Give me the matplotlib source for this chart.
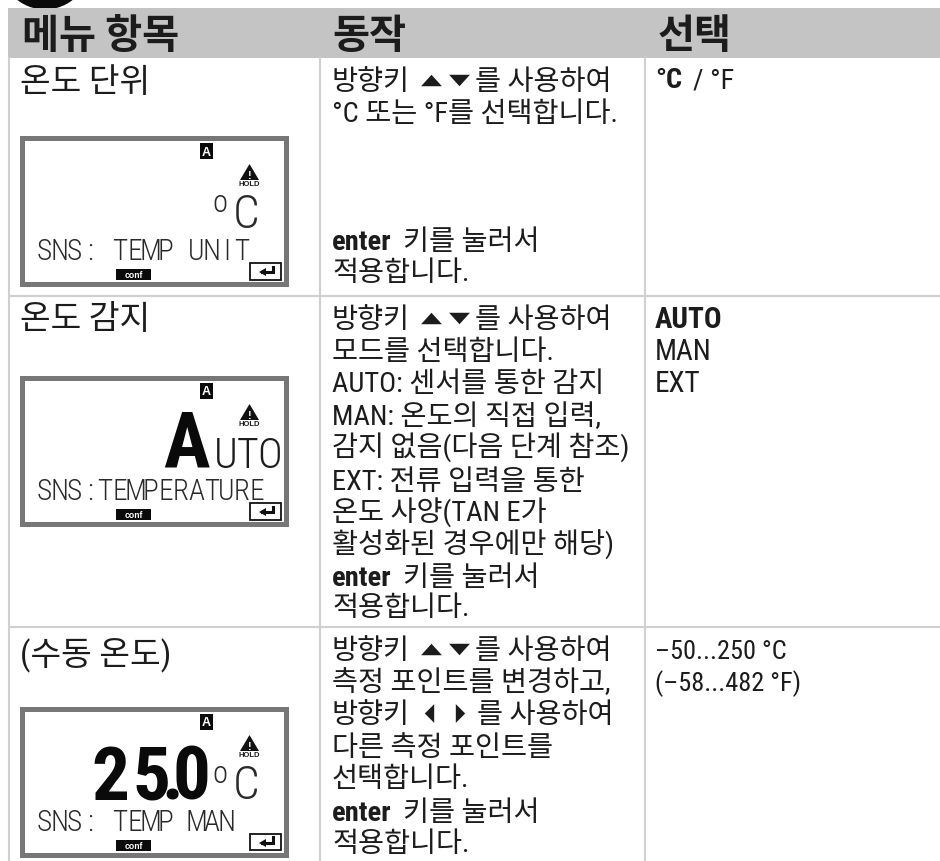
import matplotlib
matplotlib.use("Agg")
import matplotlib.pyplot as plt
from matplotlib.path import Path
from matplotlib.patches import Rectangle, Circle, Polygon

W, H = 940, 862
LAT = "Roboto Condensed"
KR = "Noto Sans CJK KR"
FAM = [LAT, KR, "DejaVu Sans"]

# ---------- content ----------
headers = ["메뉴 항목", "동작", "선택"]
titles = ["온도 단위", "온도 감지", "(수동 온도)"]
lcd_lines = ["SNS: TEMP UNIT", "SNS:TEMPERATURE", "SNS: TEMP MAN"]
lcd_big = ["", "A", "25.0"]
lcd_small = ["", "UTO", ""]
action_1 = [["방향키", "▲", "▼", "를 사용하여"], ["°C 또는 °F를 선택합니다."], [],
            [], [], ["*enter", "키를 눌러서"], ["적용합니다."]]
action_2 = [["방향키", "▲", "▼", "를 사용하여"], ["모드를 선택합니다."],
            ["AUTO: 센서를 통한 감지"], ["MAN: 온도의 직접 입력,"],
            ["감지 없음(다음 단계 참조)"], ["EXT: 전류 입력을 통한"],
            ["온도 사양(TAN E가"], ["활성화된 경우에만 해당)"],
            ["*enter", "키를 눌러서"], ["적용합니다."]]
action_3 = [["방향키", "▲", "▼", "를 사용하여"], ["측정 포인트를 변경하고,"],
            ["방향키", "◀", "▶", "를 사용하여"], ["다른 측정 포인트를"], ["선택합니다."],
            ["*enter", "키를 눌러서"], ["적용합니다."]]
choice_1 = [["*°C", "/ °F"]]
choice_2 = [["*AUTO"], ["MAN"], ["EXT"]]
choice_3 = [["–50...250 °C"], ["(–58...482 °F)"]]

# ---------- canvas ----------
fig = plt.figure(figsize=(W / 100, H / 100), dpi=100, facecolor="white")
ax = fig.add_axes([0, 0, 1, 1])
ax.set_xlim(0, W)
ax.set_ylim(H, 0)
ax.axis("off")
rend = fig.canvas.get_renderer()
INK = "#1c1c1c"
LINE = "#d0d0d0"
GRAY = "#c4c4c4"

ax.add_patch(Circle((45, -34.5), 45, fc="#0a0a0a", ec="none"))
ax.add_patch(Rectangle((8, 9), W - 8, 49.5, fc=GRAY, ec="none"))
for x in (9, 320, 645):
    ax.plot([x, x], [58, H], color=LINE, lw=1.5, solid_capstyle="butt")
for y in (297, 628):
    ax.plot([8, W], [y, y], color=LINE, lw=1.5, solid_capstyle="butt")

for x, s in zip((22, 332, 658), headers):
    ax.text(x, 48, s, family=KR, fontsize=29, fontweight="bold", color=INK, va="baseline")
for y, s in zip((92, 329, 664), titles):
    ax.text(20, y, s, family=FAM, fontsize=24, color=INK, va="baseline")

TRI = {
    "▲": [(-1, -0.55), (1, -0.55), (0, 0.55), (-1, -0.55)],
    "▼": [(-1, 0.55), (1, 0.55), (0, -0.55), (-1, 0.55)],
    "◀": [(0.5, -1), (0.5, 1), (-0.5, 0), (0.5, -1)],
    "▶": [(-0.5, -1), (-0.5, 1), (0.5, 0), (-0.5, -1)],
}
CENTER = {"▲": 14, "▼": 15, "◀": 12, "▶": 14}
ADV = {"▲": 27, "▼": 31, "◀": 29, "▶": 31}


def flow(x, y, pieces, size=20.4):
    for p in pieces:
        if p in TRI:
            ms = 10 if p in "▲▼" else 9
            ax.plot([x + CENTER[p]], [y - 9], marker=Path(TRI[p]), color=INK, ms=ms * 1.5,
                    mew=0, ls="none")
            x += ADV[p]
            continue
        bold = p.startswith("*")
        t = ax.text(x, y, p.lstrip("*"), family=FAM, fontsize=size,
                    fontweight="bold" if bold else "normal", color=INK, va="baseline")
        x += t.get_window_extent(rend).width + (11 if bold else 7)


def block(x, baselines, lines, size=20.4):
    for y, pieces in zip(baselines, lines):
        if pieces:
            flow(x, y, pieces, size)


block(332, [90, 122, 154, 186, 218, 250, 281], action_1)
block(332, [328, 360, 392, 425, 457, 490, 522, 554, 586, 616], action_2)
block(332, [659, 691, 723, 756, 787, 821, 852], action_3)
block(655, [88], choice_1)
block(655, [328, 360, 392], choice_2, size=21)
block(655, [659, 691], choice_3, size=19)


def lcd(top, line, pitch):
    x0, x1 = 19, 288
    ax.add_patch(Rectangle((x0 + 2.5, top + 2.5), x1 - x0 - 5, 146, fc="white", ec="#777777", lw=3.6))
    ax.add_patch(Rectangle((200, top + 8), 13, 16, fc="#0a0a0a", ec="none"))
    ax.text(206.5, top + 16.5, "A", color="white", fontsize=9, fontweight="bold",
            family="Liberation Sans", ha="center", va="center")
    ax.add_patch(Polygon([[249.5, top + 29], [259, top + 45], [240, top + 45]], fc="#111111", ec="none"))
    ax.text(249.5, top + 40, "!", color="white", fontsize=8, fontweight="bold",
            family="Liberation Sans", ha="center", va="center")
    ax.text(249.5, top + 49, "HOLD", color=INK, fontsize=5.5, fontweight="bold",
            family="Liberation Sans", ha="center", va="center")
    ax.add_patch(Rectangle((116, top + 134), 35, 11, fc="#0a0a0a", ec="none"))
    ax.text(133.5, top + 139.5, "conf", color="white", fontsize=6.2, fontweight="bold",
            family="Liberation Sans", ha="center", va="center")
    ax.add_patch(Rectangle((249.5, top + 128), 31, 16.5, fc="white", ec="#111111", lw=1.3))
    ax.plot([273, 273, 262], [top + 131.5, top + 137, top + 137], color="#111111", lw=2.2,
            solid_joinstyle="miter")
    ax.add_patch(Polygon([[259, top + 137], [266, top + 133], [266, top + 141]], fc="#111111", ec="none"))
    for i, ch in enumerate(line):
        if ch != " ":
            ax.text(44 + i * pitch, top + 124, ch, family=LAT, fontsize=21, fontweight=300,
                    color="#2a2a2a", ha="center", va="baseline")


for top, line, pitch in zip((136, 376, 707), lcd_lines, (15.2, 15.2, 15.2)):
    lcd(top, line, pitch)


def unit(top):
    ax.text(220, top + 76, "o", family=LAT, fontsize=22, fontweight=300, color="#2a2a2a",
            ha="center", va="baseline")
    ax.text(246, top + 92, "C", family=LAT, fontsize=34, fontweight=300, color="#2a2a2a",
            ha="center", va="baseline")


unit(136)
unit(707)
ax.text(186, 467, lcd_big[1], family=LAT, fontsize=56, fontweight=700, color="#0a0a0a",
        ha="center", va="baseline")
for xc, ch in zip((226, 248, 270), lcd_small[1]):
    ax.text(xc, 468, ch, family=LAT, fontsize=30, fontweight=300, color="#1c1c1c",
            ha="center", va="baseline")
for xc, ch in zip((110, 151, 172, 191), lcd_big[2]):
    ax.text(xc, 800, ch, family=LAT, fontsize=54, fontweight=700, color="#0a0a0a",
            ha="center", va="baseline")

fig.savefig("out.png", dpi=100, facecolor="white")
